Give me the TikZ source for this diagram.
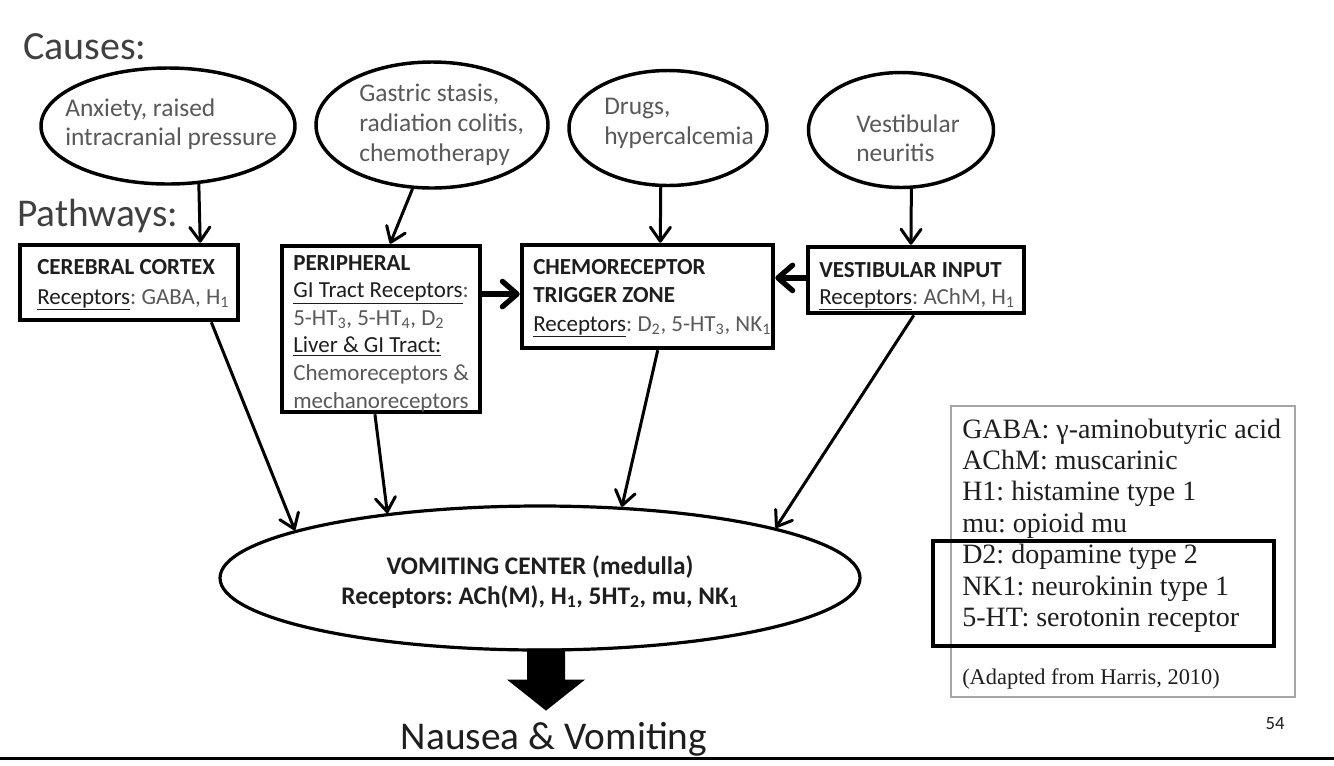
\documentclass[tikz,border=0pt]{standalone}
\usepackage{fontspec}
\setmainfont{Carlito}
\newfontfamily\legendfont{Liberation Serif}
\usetikzlibrary{shapes.geometric,arrows.meta,calc}
\newcommand\unitpx{0.75pt}
\newcommand\mylines[2]{\begin{tabular}[t]{@{}#1@{}}#2\end{tabular}}
\definecolor{txtgray}{HTML}{595959}
\definecolor{darktxt}{HTML}{1E1E1E}
\definecolor{legendgray}{HTML}{A6A6A6}
\frenchspacing
\begin{document}
\frenchspacing
\begin{tikzpicture}[x=0.75pt,y=-0.75pt,
  cause/.style={draw, ellipse, line width=2.6pt, inner sep=0pt, fill=white},
  pbox/.style={draw, rectangle, line width=3.4pt, inner sep=0pt, fill=white},
  txt/.style={anchor=base west, inner sep=0pt},
  causetxt/.style={txt, text=txtgray, font=\fontsize{19.1}{#1}\selectfont},
  boxtxt/.style={txt, text=txtgray, font=\fontsize{17.25}{#1}\selectfont},
  conn/.style={line width=2.25pt, -{Straight Barb[length=10.5pt,width=15pt,round]}},
  thickconn/.style={line width=4pt, -{Straight Barb[length=11pt,width=19pt,round]}},
  heading/.style={txt, text=darktxt!85!white, font=\fontsize{30}{34}\selectfont}
]
\useasboundingbox (0,0) rectangle (1334,765);
\fill[white] (0,0) rectangle (1334,765);

% headings
\node[heading] (causes) at (23,59) {Causes:};
\node[heading, font=\fontsize{29.5}{34}\selectfont] (pathways) at (17,226) {Pathways:};

% cause ellipses
\node[cause, minimum width=254*\unitpx, minimum height=116*\unitpx] (e1) at (168,126) {};
\node[cause, minimum width=232*\unitpx, minimum height=126*\unitpx] (e2) at (432,125) {};
\node[cause, minimum width=198*\unitpx, minimum height=115*\unitpx] (e3) at (668,128) {};
\node[cause, minimum width=185*\unitpx, minimum height=115*\unitpx] (e4) at (901,130) {};

\node[causetxt=21.75] (e1t) at (65,116) {\mylines{l}{Anxiety, raised\\intracranial pressure}};
\node[causetxt=22.5] (e2t) at (359,101) {\mylines{l}{Gastric stasis,\\radiation colitis,\\chemotherapy}};
\node[causetxt=22.5] (e3t) at (604,114) {\mylines{l}{Drugs,\\hypercalcemia}};
\node[causetxt=21.75] (e4t) at (856,132) {\mylines{l}{Vestibular\\neuritis}};

% pathway boxes
\node[pbox, minimum width=218*\unitpx, minimum height=75*\unitpx] (b1) at (129,282.5) {};
\node[pbox, minimum width=198*\unitpx, minimum height=166*\unitpx] (b2) at (381,329) {};
\node[pbox, minimum width=251*\unitpx, minimum height=103*\unitpx] (b3) at (647.5,296.5) {};
\node[pbox, minimum width=216*\unitpx, minimum height=66*\unitpx] (b4) at (916,280) {};

\node[boxtxt=22.5] (b1t) at (37,274) {\mylines{l}{\textcolor{darktxt}{\textbf{CEREBRAL CORTEX}}\\\textcolor{darktxt}{\underline{Receptors}}: GABA, H\textsubscript{1}}};
\node[boxtxt=20.7] (b2t) at (293,270) {\mylines{l}{\textcolor{darktxt}{\textbf{PERIPHERAL}}\\\textcolor{darktxt}{\underline{GI Tract Receptors}}:\\5-HT\textsubscript{3}, 5-HT\textsubscript{4}, D\textsubscript{2}\\\textcolor{darktxt}{\underline{Liver \& GI Tract:}}\\Chemoreceptors \&\\mechanoreceptors}};
\node[boxtxt=21.4] (b3t) at (533,274) {\mylines{l}{\textcolor{darktxt}{\textbf{CHEMORECEPTOR}}\\\textcolor{darktxt}{\textbf{TRIGGER ZONE}}\\\textcolor{darktxt}{\underline{Receptors}}: D\textsubscript{2}, 5-HT\textsubscript{3}, NK\textsubscript{1}}};
\node[boxtxt=20.25] (b4t) at (819,277) {\mylines{l}{\textcolor{darktxt}{\textbf{VESTIBULAR INPUT}}\\\textcolor{darktxt}{\underline{Receptors}}: AChM, H\textsubscript{1}}};

% vomiting center
\node[cause, line width=2.4pt, minimum width=640*\unitpx, minimum height=144*\unitpx] (vc) at (540,578) {};
\node[anchor=base, inner sep=0pt, text=darktxt, font=\bfseries\fontsize{19}{22.5}\selectfont] (vct) at (540,574)
  {\mylines{c}{VOMITING CENTER (medulla)\\Receptors: ACh(M), H\textsubscript{1}, 5HT\textsubscript{2}, mu, NK\textsubscript{1}}};

% cause -> pathway connectors
\draw[conn] (e1.-62.8) -- ($(b1.north west)!0.82!(b1.north east)$);
\draw[conn] (e2.-107) -- ($(b2.north west)!0.545!(b2.north east)$);
\draw[conn] (e3.-97.9) -- ($(b3.north west)!0.55!(b3.north east)$);
\draw[conn] (e4.-80) -- ($(b4.north west)!0.477!(b4.north east)$);

% pathway -> CTZ
\coordinate (p2) at ($(b2.north east)!0.295!(b2.south east)$);
\draw[thickconn] (p2) -- (p2 -| b3.west);
\coordinate (p4) at ($(b4.north west)!0.47!(b4.south west)$);
\draw[thickconn] (p4) -- (p4 -| b3.east);

% pathway -> vomiting center
\draw[conn] ($(b1.south west)!0.87!(b1.south east)$) -- (vc.169.4);
\draw[conn] ($(b2.south west)!0.47!(b2.south east)$) -- (vc.157.4);
\draw[conn] ($(b3.south west)!0.54!(b3.south east)$) -- (vc.41.1);
\draw[conn] ($(b4.south west)!0.49!(b4.south east)$) -- (vc.12.4);

% big arrow
\coordinate (as) at ($(vc.south)+(6,0)$);
\fill ($(as)+(-19,-3)$) -- ($(as)+(19,-3)$) -- ($(as)+(19,28)$) -- ($(as)+(39,28)$)
  -- ($(as)+(0,59)$) -- ($(as)+(-39,28)$) -- ($(as)+(-19,28)$) -- cycle;
\node[anchor=base, inner sep=0pt, text=darktxt, font=\fontsize{29.5}{34}\selectfont] (nv) at (554,749) {Nausea \& Vomiting};

% legend
\node[draw=legendgray, line width=0.8pt, inner sep=0pt, minimum width=344*\unitpx, minimum height=291*\unitpx] (legend) at (1123,551.5) {};
\node[draw, line width=2.6pt, inner sep=0pt, minimum width=341*\unitpx, minimum height=105*\unitpx] (hl) at (1103.5,593.5) {};
\node[txt, text=darktxt, font=\legendfont\fontsize{21}{23.6}\selectfont] (legtext) at (962,438)
  {\mylines{l}{GABA: γ-aminobutyric acid\\AChM: muscarinic\\H1: histamine type 1\\mu: opioid mu\\D2: dopamine type 2\\NK1: neurokinin type 1\\5-HT: serotonin receptor}};
\node[txt, text=darktxt, font=\legendfont\fontsize{16.8}{20}\selectfont] (adapted) at (962,684) {(Adapted from Harris, 2010)};

% page number and rule
\node[anchor=base, inner sep=0pt, text=darktxt, font=\fontsize{14}{16}\selectfont] (pg) at (1275,729) {54};
\draw[line width=2.25pt] (0,758) -- (1334,758);
\end{tikzpicture}
\end{document}
